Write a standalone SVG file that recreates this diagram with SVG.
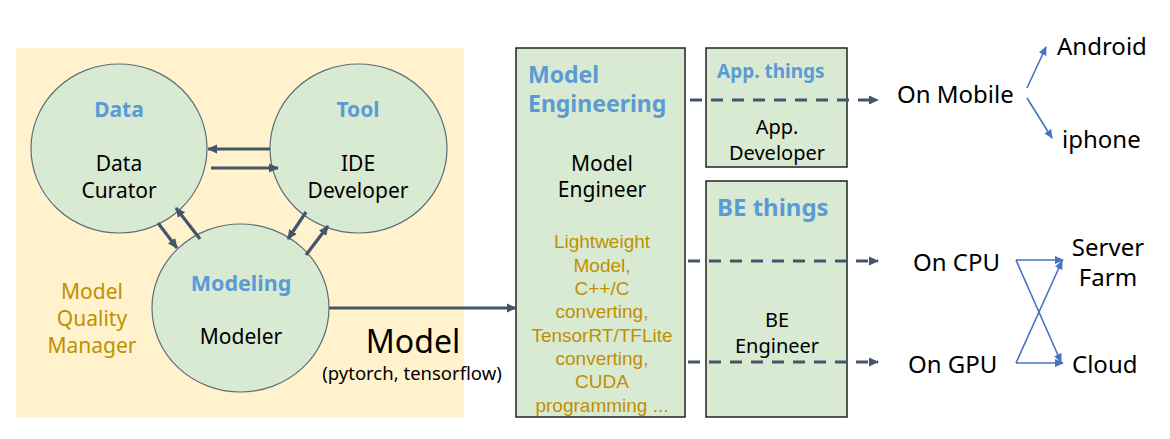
<svg xmlns="http://www.w3.org/2000/svg" width="1170" height="439" viewBox="0 0 1170 439">
<style>
text{font-family:"Noto Sans","Open Sans","Liberation Sans",sans-serif;}
.node{fill:#D9EAD3;stroke:#5C6E7A;stroke-width:1.2;}
.box{fill:#D9EAD3;stroke:#222;stroke-width:1.5;}
.ttl{font-weight:bold;fill:#5B9BD5;}
.blk{fill:#000;font-size:21px;}
.gold{fill:#BF9000;}
.list text{font-family:"Liberation Sans",Arial,sans-serif;}
.dark{stroke:#44546A;stroke-width:3.2;fill:none;}
.dash{stroke:#44546A;stroke-width:3;fill:none;stroke-dasharray:12 9;}
.blue{stroke:#4472C4;stroke-width:1.6;fill:none;}
.rt{fill:#000;font-size:24px;}
</style>
<defs>
<marker id="ad" markerUnits="userSpaceOnUse" markerWidth="11" markerHeight="11" refX="9" refY="5.5" orient="auto">
<path d="M0,1 L10,5.5 L0,10 z" fill="#44546A"/>
</marker>
<marker id="ab" markerUnits="userSpaceOnUse" markerWidth="10" markerHeight="10" refX="8" refY="5" orient="auto">
<path d="M0,1 L9,5 L0,9 z" fill="#4472C4"/>
</marker>
</defs>
<rect x="16" y="48" width="448" height="370" fill="#FFF2CC"/>
<g id="data">
<ellipse class="node" cx="119" cy="148.5" rx="88" ry="84.5"/>
<text class="ttl" x="119" y="117" text-anchor="middle" font-size="21">Data</text>
<text class="blk" x="119" y="171" text-anchor="middle">Data</text>
<text class="blk" x="119" y="198" text-anchor="middle">Curator</text>
</g>
<g id="tool">
<ellipse class="node" cx="358.5" cy="148.5" rx="88.5" ry="84.5"/>
<text class="ttl" x="358" y="117" text-anchor="middle" font-size="21">Tool</text>
<text class="blk" x="358" y="171" text-anchor="middle">IDE</text>
<text class="blk" x="358" y="198" text-anchor="middle">Developer</text>
</g>
<g id="modeling">
<ellipse class="node" cx="240.5" cy="308" rx="88.5" ry="84"/>
<text class="ttl" x="241" y="291" text-anchor="middle" font-size="21.5">Modeling</text>
<text class="blk" x="241" y="344" text-anchor="middle">Modeler</text>
</g>
<g id="mqm">
<text class="gold" x="92" y="299" text-anchor="middle" font-size="21">Model</text>
<text class="gold" x="92" y="326" text-anchor="middle" font-size="21">Quality</text>
<text class="gold" x="92" y="353" text-anchor="middle" font-size="21">Manager</text>
</g>
<g id="model-label">
<text x="413" y="353" text-anchor="middle" font-size="32" fill="#000">Model</text>
<text x="412" y="380" text-anchor="middle" font-size="18.5" fill="#000">(pytorch, tensorflow)</text>
</g>
<g id="model-engineering">
<rect class="box" x="516" y="48" width="169" height="369"/>
<text class="ttl" x="528" y="83" font-size="23">Model</text>
<text class="ttl" x="528" y="112" font-size="23">Engineering</text>
<text class="blk" x="602" y="171" text-anchor="middle">Model</text>
<text class="blk" x="602" y="197" text-anchor="middle">Engineer</text>
<g class="gold list" font-size="19" text-anchor="middle">
<text x="602" y="248">Lightweight</text>
<text x="602" y="272">Model,</text>
<text x="602" y="295">C++/C</text>
<text x="602" y="318">converting,</text>
<text x="602" y="342">TensorRT/TFLite</text>
<text x="602" y="365">converting,</text>
<text x="602" y="388">CUDA</text>
<text x="602" y="412">programming ...</text>
</g>
</g>
<g id="app-things">
<rect class="box" x="706" y="48" width="141" height="119"/>
<text class="ttl" x="717" y="78" font-size="19">App. things</text>
<text x="777" y="134" text-anchor="middle" font-size="20" fill="#000">App.</text>
<text x="777" y="160" text-anchor="middle" font-size="20" fill="#000">Developer</text>
</g>
<g id="be-things">
<rect class="box" x="706" y="181" width="141" height="236"/>
<text class="ttl" x="717" y="216" font-size="24">BE things</text>
<text x="777" y="327" text-anchor="middle" font-size="20" fill="#000">BE</text>
<text x="777" y="353" text-anchor="middle" font-size="20" fill="#000">Engineer</text>
</g>
<g id="on-mobile"><text class="rt" x="897" y="103">On Mobile</text></g>
<g id="android"><text class="rt" x="1057" y="55">Android</text></g>
<g id="iphone"><text class="rt" x="1062" y="148">iphone</text></g>
<g id="on-cpu"><text class="rt" x="913" y="271">On CPU</text></g>
<g id="on-gpu"><text class="rt" x="908" y="373">On GPU</text></g>
<g id="server-farm">
<text class="rt" x="1108" y="256" text-anchor="middle">Server</text>
<text class="rt" x="1108" y="286" text-anchor="middle">Farm</text>
</g>
<g id="cloud"><text class="rt" x="1072" y="373">Cloud</text></g>
<g id="connectors">
<line class="dark" x1="270" y1="149" x2="208" y2="149" marker-end="url(#ad)"/>
<line class="dark" x1="211" y1="168" x2="278" y2="168" marker-end="url(#ad)"/>
<line class="dark" x1="158" y1="223" x2="177" y2="248" marker-end="url(#ad)"/>
<line class="dark" x1="200" y1="239" x2="176" y2="208" marker-end="url(#ad)"/>
<line class="dark" x1="306" y1="212" x2="288" y2="239" marker-end="url(#ad)"/>
<line class="dark" x1="306" y1="255" x2="328" y2="226" marker-end="url(#ad)"/>
<line class="dark" x1="329" y1="308" x2="516" y2="308" marker-end="url(#ad)"/>
<line class="dash" x1="690" y1="100" x2="878" y2="100" marker-end="url(#ad)"/>
<line class="dash" x1="688" y1="261" x2="878" y2="261" marker-end="url(#ad)"/>
<line class="dash" x1="688" y1="362" x2="878" y2="362" marker-end="url(#ad)"/>
<line class="blue" x1="1027" y1="88" x2="1046" y2="47" marker-end="url(#ab)"/>
<line class="blue" x1="1027" y1="98" x2="1052" y2="138" marker-end="url(#ab)"/>
<line class="blue" x1="1016" y1="260" x2="1063" y2="260" marker-end="url(#ab)"/>
<line class="blue" x1="1016" y1="260" x2="1061" y2="362" marker-end="url(#ab)"/>
<line class="blue" x1="1016" y1="363" x2="1063" y2="363" marker-end="url(#ab)"/>
<line class="blue" x1="1016" y1="363" x2="1062" y2="261" marker-end="url(#ab)"/>
</g>
</svg>
